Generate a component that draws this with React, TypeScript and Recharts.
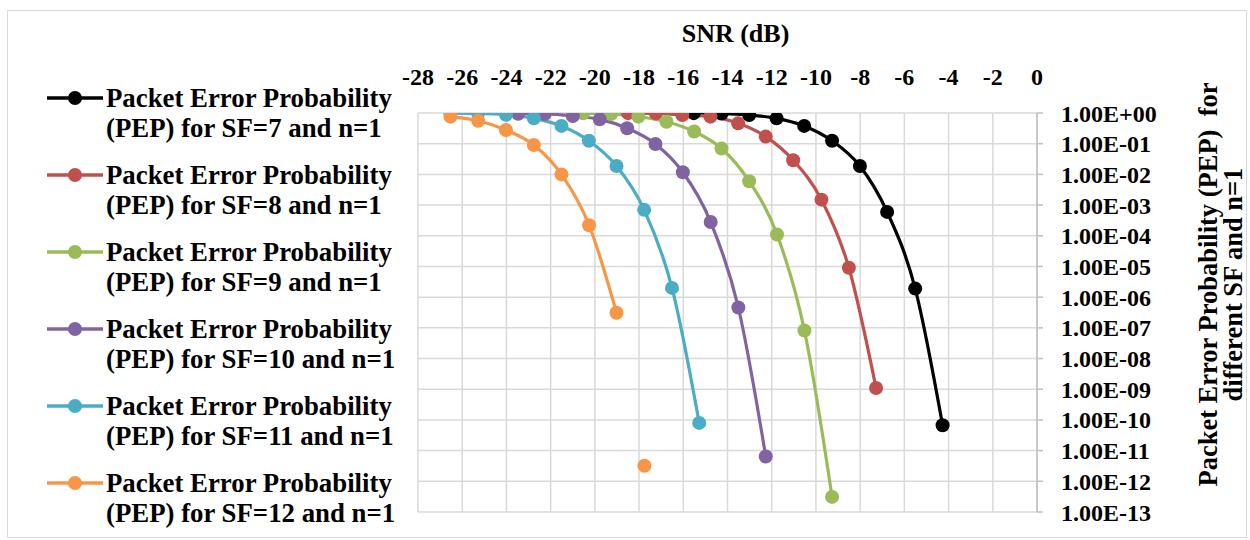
import React from 'react';
import { LineChart, Line, XAxis, YAxis, CartesianGrid, Legend } from 'recharts';

const snrTicks = [-28, -26, -24, -22, -20, -18, -16, -14, -12, -10, -8, -6, -4, -2, 0];
const pepTicks = [1, 1e-1, 1e-2, 1e-3, 1e-4, 1e-5, 1e-6, 1e-7, 1e-8, 1e-9, 1e-10, 1e-11, 1e-12, 1e-13];

const sf7Snr = [-15.53, -14.27, -13.02, -11.78, -10.53, -9.27, -8.01, -6.78, -5.51, -4.27];
const sf7Pep = [0.99, 0.96, 0.86, 0.67, 0.38, 0.125, 0.0187, 6e-4, 1.9e-6, 6.7e-11];
const sf8Snr = [-18.5, -17.24, -16.04, -14.77, -13.52, -12.27, -11.03, -9.75, -8.51, -7.28];
const sf8Pep = [0.99, 0.97, 0.86, 0.76, 0.46, 0.17, 0.029, 1.5e-3, 9.1e-6, 1.1e-9];
const sf9Snr = [-20.53, -19.27, -18.03, -16.76, -15.51, -14.27, -13.02, -11.76, -10.52, -9.27];
const sf9Pep = [0.98, 0.93, 0.76, 0.52, 0.25, 0.07, 6e-3, 1.1e-4, 8.2e-8, 3.1e-13];
const sf10Snr = [-23.47, -22.27, -21.0, -19.78, -18.54, -17.26, -16.02, -14.76, -13.51, -12.27];
const sf10Pep = [0.95, 0.93, 0.8, 0.62, 0.32, 0.098, 0.0117, 2.8e-4, 4.6e-7, 6.4e-12];
const sf11Snr = [-26.53, -25.28, -24.02, -22.76, -21.51, -20.27, -19.02, -17.77, -16.51, -15.28];
const sf11Pep = [0.99, 0.97, 0.88, 0.67, 0.38, 0.125, 0.0187, 7e-4, 2e-6, 8e-11];
const sf12Snr = [-26.53, -25.28, -24.02, -22.76, -21.51, -20.26, -19.02];
const sf12Pep = [0.76, 0.56, 0.28, 0.091, 0.01, 2.2e-4, 3.1e-7];
const sf12IsolatedSnr = [-17.76];
const sf12IsolatedPep = [3.2e-12];

const seriesNames = [
  'SF=7 and n=1',
  'SF=8 and n=1',
  'SF=9 and n=1',
  'SF=10 and n=1',
  'SF=11 and n=1',
  'SF=12 and n=1',
];
const seriesColors = ['#000000', '#c0504d', '#9bbb59', '#8064a2', '#4bacc6', '#f79646'];

const zip = (xs: number[], ys: number[]) => xs.map((x, i) => ({ x, y: ys[i] }));

const series = [
  zip(sf7Snr, sf7Pep),
  zip(sf8Snr, sf8Pep),
  zip(sf9Snr, sf9Pep),
  zip(sf10Snr, sf10Pep),
  zip(sf11Snr, sf11Pep),
  zip(sf12Snr, sf12Pep),
];
const sf12Isolated = zip(sf12IsolatedSnr, sf12IsolatedPep);

const minorTicks: number[] = [];
for (let e = -13; e < 0; e++) {
  for (let k = 2; k <= 9; k++) minorTicks.push(k * Math.pow(10, e));
}

const FONT = '"Liberation Serif", "Times New Roman", serif';

const fmtPep = (v: number) => {
  const e = Math.round(Math.log10(v));
  return `1.00E${e < 0 ? '-' : '+'}${String(Math.abs(e)).padStart(2, '0')}`;
};

const renderLegend = () => (
  <div style={{ fontFamily: FONT, fontWeight: 'bold', fontSize: 26.8, color: '#000' }}>
    {seriesNames.map((name, i) => (
      <div key={name} style={{ position: 'relative', height: 77 }}>
        <svg width={60} height={20} style={{ position: 'absolute', left: 0, top: 5 }}>
          <line x1={2} y1={10} x2={58} y2={10} stroke={seriesColors[i]} strokeWidth={3.5} />
          <circle cx={30} cy={10} r={7} fill={seriesColors[i]} />
        </svg>
        <div style={{ position: 'absolute', left: 61, top: 0, lineHeight: '30px', whiteSpace: 'nowrap' }}>
          <div>Packet Error Probability</div>
          <div>(PEP) for {name}</div>
        </div>
      </div>
    ))}
  </div>
);

const YTitle = (props: any) => {
  const vb = props.viewBox || {};
  const cy = vb.y + vb.height / 2 - 28;
  const x1 = vb.x + 171;
  const x2 = vb.x + 196;
  const style = { fontFamily: FONT, fontWeight: 'bold', fontSize: 26.5, whiteSpace: 'pre' } as any;
  return (
    <g>
      <text x={x1} y={cy} transform={`rotate(-90, ${x1}, ${cy})`} textAnchor="middle" dominantBaseline="central" fill="#000" style={style}>
        {'Packet Error Probability (PEP)\u00a0 for'}
      </text>
      <text x={x2} y={cy} transform={`rotate(-90, ${x2}, ${cy})`} textAnchor="middle" dominantBaseline="central" fill="#000" style={style}>
        different SF and n=1
      </text>
    </g>
  );
};

const XTitle = (props: any) => {
  const vb = props.viewBox || {};
  const cx = vb.x + vb.width / 2 + 8;
  return (
    <text x={cx} y={vb.y + 20} textAnchor="middle" dominantBaseline="central" fill="#000"
      style={{ fontFamily: FONT, fontWeight: 'bold', fontSize: 26 } as any}>
      SNR (dB)
    </text>
  );
};

const MinorTick = (props: any) => {
  const { x, y } = props;
  return <line x1={x - 8} y1={y} x2={x - 2} y2={y} stroke="#c8c8c8" strokeWidth={1} />;
};

export default function App() {
  return (
    <div style={{ position: 'absolute', left: 0, top: 0, width: 1250, height: 540, background: '#fff' }}>
      <div style={{ position: 'absolute', left: 7, top: 10, width: 1240, height: 528, border: '1px solid #d9d9d9', boxSizing: 'border-box' }} />
      <LineChart width={1250} height={540} margin={{ top: 13, right: 0, left: 418, bottom: 28 }}>
        <CartesianGrid yAxisId="main" stroke="#d9d9d9" strokeWidth={1.5} />
        <XAxis
          type="number"
          dataKey="x"
          orientation="top"
          domain={[-28, 0]}
          ticks={snrTicks}
          interval={0}
          allowDataOverflow
          height={100}
          axisLine={false}
          tickLine={false}
          tickMargin={22}
          tick={{ fontFamily: FONT, fontWeight: 'bold', fontSize: 24, fill: '#000' }}
          label={{ content: XTitle } as any}
        />
        <YAxis
          yAxisId="minor"
          orientation="right"
          scale="log"
          domain={[1e-13, 1]}
          ticks={minorTicks}
          interval={0}
          allowDataOverflow
          width={0}
          axisLine={false}
          tickLine={false}
          tickSize={0}
          tickMargin={0}
          tick={MinorTick}
        />
        <YAxis
          yAxisId="main"
          orientation="right"
          scale="log"
          domain={[1e-13, 1]}
          ticks={pepTicks}
          interval={0}
          allowDataOverflow
          width={213}
          axisLine={{ stroke: '#bfbfbf', strokeWidth: 1.5 }}
          tickLine={{ stroke: '#bfbfbf', strokeWidth: 1.5 }}
          tickSize={6}
          tickMargin={18}
          tickFormatter={fmtPep}
          tick={{ fontFamily: FONT, fontWeight: 'bold', fontSize: 24, fill: '#000', textAnchor: 'start' }}
          label={{ content: YTitle } as any}
        />
        <Legend
          layout="vertical"
          align="center"
          verticalAlign="middle"
          content={renderLegend}
          wrapperStyle={{ left: 45, top: 83, width: 360, height: 470 }}
        />
        {series.map((d, i) => (
          <Line
            key={seriesNames[i]}
            yAxisId="main"
            data={d}
            dataKey="y"
            name={seriesNames[i]}
            type="monotone"
            stroke={seriesColors[i]}
            strokeWidth={3.2}
            dot={{ r: 7, fill: seriesColors[i], stroke: seriesColors[i], strokeWidth: 0 }}
            activeDot={false}
            isAnimationActive={false}
          />
        ))}
        <Line
          yAxisId="main"
          data={sf12Isolated}
          dataKey="y"
          name="SF=12 isolated"
          legendType="none"
          type="monotone"
          stroke={seriesColors[5]}
          strokeWidth={3.2}
          dot={{ r: 7, fill: seriesColors[5], stroke: seriesColors[5], strokeWidth: 0 }}
          activeDot={false}
          isAnimationActive={false}
        />
      </LineChart>
    </div>
  );
}
